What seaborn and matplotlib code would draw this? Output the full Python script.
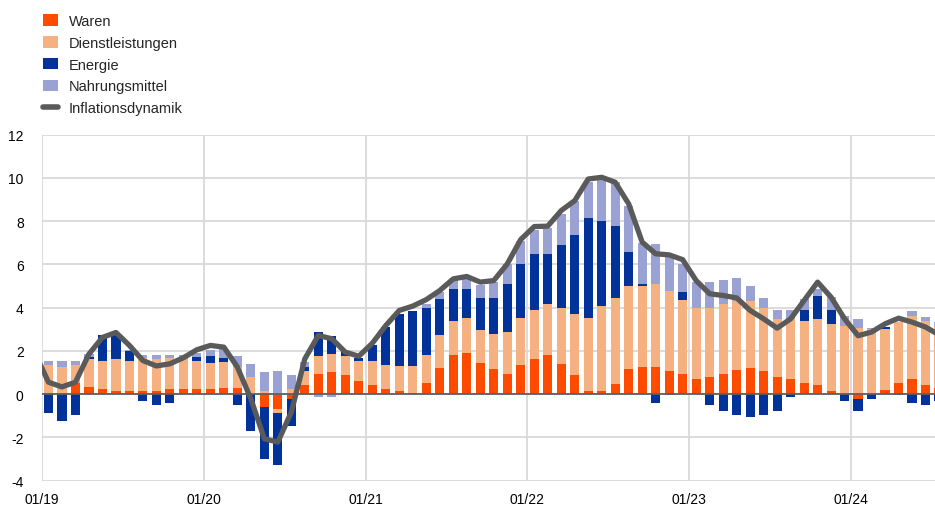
import numpy as np
import pandas as pd
import matplotlib
matplotlib.use("Agg")
import matplotlib.pyplot as plt
from matplotlib.patches import Patch
from matplotlib.lines import Line2D
import seaborn as sns

# monthly data Jan 2019 - Jul 2024 (percentage point contributions)
months = pd.date_range("2019-01-01", "2024-07-01", freq="MS")

waren = [0.03, 0.05, 0.49, 0.31, 0.22, 0.12, 0.12, 0.12, 0.12, 0.23, 0.23, 0.23,
         0.22, 0.30, 0.30, 0.00, -0.62, -0.68, -0.22, 0.40, 0.94, 1.02, 0.86, 0.59,
         0.40, 0.22, 0.12, 0.06, 0.51, 1.22, 1.79, 1.88, 1.42, 1.14, 0.94, 1.33,
         1.60, 1.79, 1.40, 0.86, 0.12, 0.12, 0.48, 1.14, 1.25, 1.23, 1.05, 0.94,
         0.68, 0.77, 0.94, 1.12, 1.22, 1.05, 0.77, 0.68, 0.51, 0.40, 0.12, 0.00,
         -0.22, 0.00, 0.20, 0.51, 0.68, 0.40, 0.30]
dienstleistungen = [1.30, 1.21, 0.85, 1.29, 1.32, 1.49, 1.42, 1.55, 1.52, 1.45, 1.37, 1.31,
                    1.20, 1.20, 0.94, 0.78, 0.12, -0.18, 0.22, 0.65, 0.82, 0.85, 0.92, 0.92,
                    1.11, 1.11, 1.20, 1.26, 1.28, 1.50, 1.57, 1.65, 1.56, 1.65, 1.93, 2.20,
                    2.30, 2.39, 2.57, 2.85, 3.40, 3.94, 3.98, 3.85, 3.74, 3.87, 3.70, 3.43,
                    3.31, 3.22, 3.24, 3.20, 3.07, 2.94, 2.68, 2.77, 2.85, 3.05, 3.13, 3.17,
                    3.07, 2.99, 2.79, 2.82, 2.93, 2.96, 2.90]
energie = [-0.86, -1.23, -0.97, 0.12, 1.18, 1.18, 0.45, -0.31, -0.50, -0.40, 0.00, 0.16,
           0.35, 0.15, -0.50, -1.70, -2.37, -2.40, -1.25, 0.20, 1.10, 0.82, 0.23, 0.18,
           0.74, 1.77, 2.39, 2.50, 2.20, 1.66, 1.48, 1.31, 1.48, 1.66, 2.23, 2.47,
           2.59, 2.31, 2.94, 3.67, 4.61, 3.96, 3.31, 1.57, 0.11, -0.42, -0.05, 0.36,
           0.00, -0.49, -0.77, -0.99, -1.06, -0.99, -0.77, -0.14, 0.55, 1.08, 0.66, -0.32,
           -0.57, -0.22, 0.10, -0.05, -0.42, -0.52, -0.34]
nahrungsmittel = [0.20, 0.26, 0.20, 0.15, 0.00, 0.00, 0.05, 0.12, 0.15, 0.12, 0.20, 0.20,
                  0.25, 0.42, 0.54, 0.62, 0.92, 1.05, 0.65, 0.23, -0.14, -0.14, 0.00, 0.00,
                  0.00, 0.00, 0.00, 0.00, 0.18, 0.34, 0.42, 0.49, 0.60, 0.72, 0.92, 1.06,
                  1.08, 1.20, 1.42, 1.57, 1.69, 1.93, 2.06, 2.13, 1.90, 1.85, 1.65, 1.30,
                  1.19, 1.19, 1.08, 1.03, 0.71, 0.45, 0.46, 0.46, 0.49, 0.34, 0.57, 0.43,
                  0.39, 0.08, 0.00, 0.00, 0.22, 0.20, 0.15]
# inflation dynamic, Dec 2018 first, then Jan 2019 - Jul 2024
inflationsdynamik = [1.90,
                     0.55, 0.33, 0.55, 1.85, 2.62, 2.85, 2.25, 1.55, 1.30, 1.40, 1.68, 2.05,
                     2.25, 2.17, 1.25, -0.22, -2.07, -2.22, -0.83, 1.63, 2.71, 2.56, 1.94, 1.75,
                     2.35, 3.17, 3.87, 4.07, 4.37, 4.79, 5.33, 5.44, 5.18, 5.25, 6.02, 7.15,
                     7.75, 7.77, 8.49, 8.95, 9.95, 10.03, 9.80, 8.80, 7.03, 6.49, 6.44, 6.22,
                     5.25, 4.64, 4.56, 4.45, 3.87, 3.48, 3.05, 3.48, 4.33, 5.18, 4.48, 3.48,
                     2.70, 2.87, 3.25, 3.51, 3.33, 3.10, 2.74]

series = [("Waren", waren, "#ff4b00"),
          ("Dienstleistungen", dienstleistungen, "#f6b183"),
          ("Energie", energie, "#003299"),
          ("Nahrungsmittel", nahrungsmittel, "#99a2d2")]
line_color = "#5a5a5a"

sns.set_style("white")
plt.rcParams["font.family"] = ["Liberation Sans", "DejaVu Sans"]
plt.rcParams["axes.unicode_minus"] = False

fig = plt.figure(figsize=(9.35, 5.06), dpi=100)
ax = fig.add_axes([0.0446, 0.0484, 0.9554, 0.6834])

n = len(months)
x = np.arange(n) + 0.5
pos_bottom = np.zeros(n)
neg_bottom = np.zeros(n)
for name, vals, col in series:
    v = np.array(vals)
    bottom = np.where(v >= 0, pos_bottom, neg_bottom)
    ax.bar(x, v, width=0.68, bottom=bottom, color=col, linewidth=0, zorder=2)
    pos_bottom += np.clip(v, 0, None)
    neg_bottom += np.clip(v, None, 0)

line_df = pd.DataFrame({"x": np.arange(-1, n) + 0.5, "wert": inflationsdynamik})
sns.lineplot(data=line_df, x="x", y="wert", ax=ax, color=line_color, lw=3.8,
             legend=False, zorder=4)

ax.axhline(0, color="#606060", lw=1.3, zorder=3)

ax.set_xlim(0, 66.2)
ax.set_ylim(-4, 12)
ax.set_yticks(np.arange(-4, 13, 2))
ax.set_xticks(np.arange(0, 61, 12))
ax.set_xticklabels([d.strftime("%m/%y") for d in months[::12]])
ax.grid(True, color="#d9d9d9", lw=1.3, zorder=0)
ax.set_axisbelow(True)
for s in ax.spines.values():
    s.set_visible(False)
ax.tick_params(axis="both", length=0, labelsize=10, colors="#000000")
ax.tick_params(axis="y", pad=13)
ax.tick_params(axis="x", pad=8)
ax.set_xlabel("")
ax.set_ylabel("")

handles = [Patch(facecolor=c, edgecolor="none", label=nm) for nm, _, c in series]
handles.append(Line2D([0], [0], color=line_color, lw=4, label="Inflationsdynamik"))
fig.legend(handles=handles, loc="upper left", bbox_to_anchor=(0.046, 0.970),
           frameon=False, fontsize=10.5, handlelength=1.0, handleheight=0.85,
           handletextpad=0.75, labelspacing=0.53, borderpad=0, borderaxespad=0)

fig.savefig("out.png", dpi=100)
